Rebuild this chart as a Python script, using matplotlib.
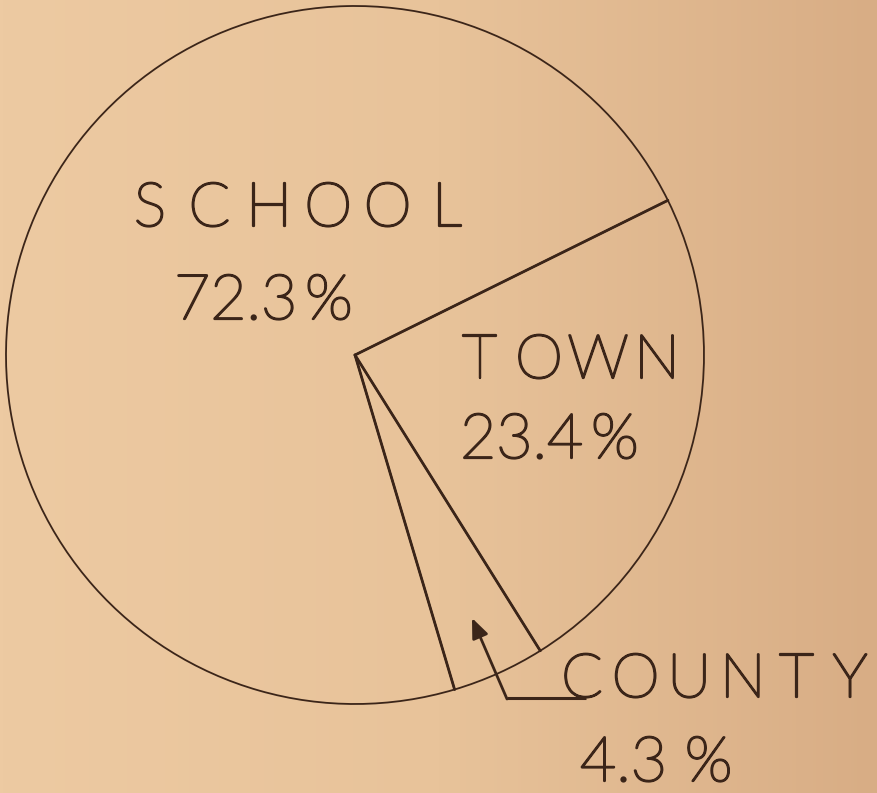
import numpy as np
import matplotlib
matplotlib.use("Agg")
import matplotlib.pyplot as plt
import matplotlib.patheffects as pe
from matplotlib.colors import LinearSegmentedColormap

# 数据
categories = ["SCHOOL", "COUNTY", "TOWN"]
shares = [72.3, 4.3, 23.4]
pct_labels = ["72.3%", "4.3%", "23.4%"]

W, H = 878, 793
INK = "#3b2519"

plt.rcParams["font.family"] = ["Lato", "DejaVu Sans"]

fig = plt.figure(figsize=(W / 100, H / 100), dpi=100)

# 纸张背景（左亮右暗）
bg = fig.add_axes([0, 0, 1, 1], zorder=0)
paper = LinearSegmentedColormap.from_list("paper", ["#edcaa2", "#e8c39a", "#d8ad85"])
bg.imshow(np.linspace(0, 1, 256)[None, :], cmap=paper, aspect="auto", extent=[0, 1, 0, 1])
bg.axis("off")

# 像素坐标系，y 向上
ax = fig.add_axes([0, 0, 1, 1], zorder=1)
ax.patch.set_alpha(0)

def py(y):
    return H - y

cx, cy, r = 355, py(355), 349
wedges, _ = ax.pie(shares, startangle=26.3, counterclock=True, center=(cx, cy), radius=r,
                   colors=["none"] * 3, frame=True,
                   wedgeprops=dict(edgecolor=INK, linewidth=1.3))
ax.set_xlim(0, W)
ax.set_ylim(0, H)
ax.set_aspect("equal")
ax.axis("off")

# 半径线画粗一些
for w in wedges:
    t = np.deg2rad(w.theta1)
    ax.plot([cx, cx + r * np.cos(t)], [cy, cy + r * np.sin(t)], color=INK, lw=2.0,
            solid_capstyle="round")

# 细字体加一点描边，接近字模笔画粗细
pen = [pe.withStroke(linewidth=1.6, foreground=INK)]

def lettered(x0, y, s, pitch, size=44):
    # 等距字模字母
    for i, ch in enumerate(s):
        ax.text(x0 + i * pitch, py(y), ch, ha="center", va="baseline",
                fontsize=size, color=INK, fontweight="light", path_effects=pen)

def number(x0, y, s, size=45):
    ax.text(x0, py(y), s, ha="left", va="baseline", fontsize=size,
            color=INK, fontweight="light", path_effects=pen)

lettered(150, 226, categories[0], 59.4)
number(174, 319, pct_labels[0].replace("%", "\u2009%"))
lettered(480, 378, categories[2], 59)
number(460, 458, pct_labels[2].replace("%", "\u2009%"))
lettered(582, 697, categories[1], 53.6)
number(580, 781, pct_labels[1].replace("%", " %"))

# 指引箭头
ax.plot([507, 586], [py(698), py(698)], color=INK, lw=2.2, solid_capstyle="butt")
ax.annotate("", xy=(472, py(618)), xytext=(507, py(699)),
            arrowprops=dict(arrowstyle="-|>,head_length=1.2,head_width=0.5",
                            color=INK, lw=2.0, shrinkA=0, shrinkB=0))

fig.savefig("out.png", dpi=100)
